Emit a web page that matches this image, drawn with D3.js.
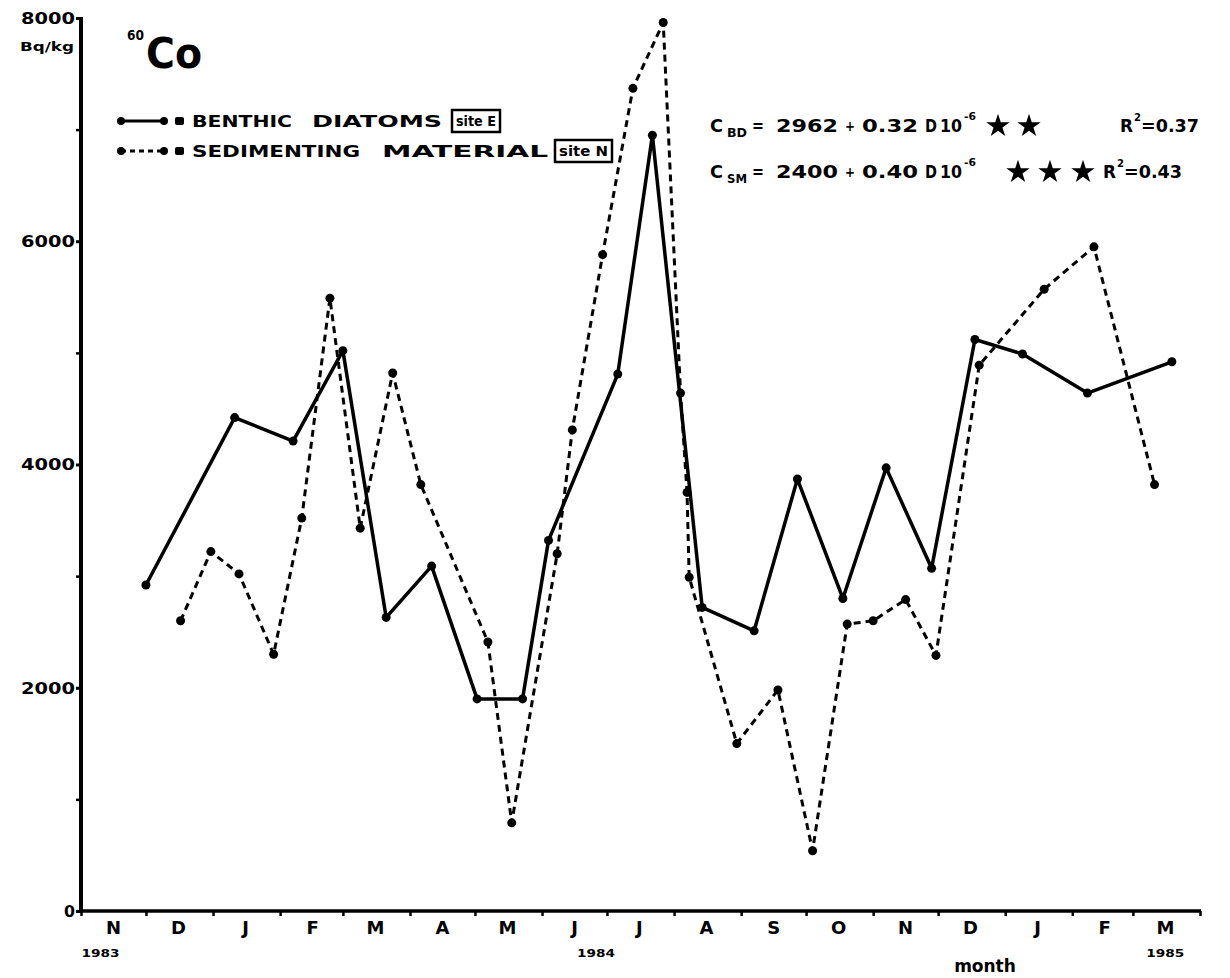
<!DOCTYPE html>
<html>
<head>
<meta charset="utf-8">
<script src="https://cdn.jsdelivr.net/npm/d3@7"></script>
<style>
  body { margin: 0; background: #fff; }
  text { font-family: "DejaVu Sans", sans-serif; font-weight: bold; fill: #000; }
</style>
</head>
<body>
<div id="chart"></div>
<script>
// 60Co in benthic diatoms (site E) and sedimenting material (site N), Nov 1983 - Mar 1985

const diatomDates = ['1983-12-01', '1984-01-11', '1984-02-07', '1984-03-01', '1984-03-21', '1984-04-11',
    '1984-05-02', '1984-05-23', '1984-06-04', '1984-07-06', '1984-07-22', '1984-08-14', '1984-09-07',
    '1984-09-27', '1984-10-18', '1984-11-07', '1984-11-28', '1984-12-18', '1985-01-09', '1985-02-08',
    '1985-03-19'];
const diatomValues = [2920, 4420, 4210, 5020, 2630, 3090, 1900, 1900, 3320, 4810, 6950, 2720, 2510,
    3870, 2800, 3970, 3070, 5120, 4990, 4640, 4920];

const sedimentDates = ['1983-12-17', '1983-12-31', '1984-01-13', '1984-01-29', '1984-02-11', '1984-02-24',
    '1984-03-09', '1984-03-24', '1984-04-06', '1984-05-07', '1984-05-18', '1984-06-08', '1984-06-15',
    '1984-06-29', '1984-07-13', '1984-07-27', '1984-08-04', '1984-08-07', '1984-08-08', '1984-08-30',
    '1984-09-18', '1984-10-04', '1984-10-20', '1984-11-01', '1984-11-16', '1984-11-30', '1984-12-20',
    '1985-01-19', '1985-02-11', '1985-03-11'];
const sedimentValues = [2600, 3220, 3020, 2300, 3520, 5490, 3430, 4820, 3820, 2410, 790, 3200, 4310,
    5880, 7370, 7960, 4640, 3750, 2990, 1500, 1980, 540, 2570, 2600, 2790, 2290, 4890, 5570, 5950, 3820];

const monthLabels = ['N', 'D', 'J', 'F', 'M', 'A', 'M', 'J', 'J', 'A', 'S', 'O', 'N', 'D', 'J', 'F', 'M'];
const yearLabels = [['1983', '1983-11-10'], ['1984', '1984-06-26'], ['1985', '1985-03-16']];
const yTicks = [0, 2000, 4000, 6000, 8000];
const yMinorTicks = [1000, 3000, 5000, 7000];

const width = 1230, height = 978;
const parse = d3.timeParse('%Y-%m-%d');

const svg = d3.select('#chart').append('svg')
    .attr('width', width)
    .attr('height', height);

const x = d3.scaleTime()
    .domain([parse('1983-11-01'), parse('1985-04-01')])
    .range([81, 1200]);
const y = d3.scaleLinear()
    .domain([0, 8000])
    .range([911, 18]);

// axes
const yAxis = svg.append('g')
    .attr('transform', 'translate(81,0)')
    .call(d3.axisLeft(y).tickValues(yTicks).tickFormat(d3.format('d')).tickSize(5).tickPadding(1));
yAxis.select('.domain').attr('stroke-width', 4).attr('d', 'M0,911V17');
yAxis.selectAll('.tick line').attr('stroke-width', 3);
yAxis.selectAll('.tick text')
    .attr('font-family', 'DejaVu Sans')
    .attr('font-weight', 'bold')
    .attr('font-size', 15)
    .attr('textLength', d => d === 0 ? 11 : 54)
    .attr('lengthAdjust', 'spacingAndGlyphs')
    .attr('dy', '0.35em');

svg.append('g')
    .attr('transform', 'translate(81,0)')
    .call(d3.axisLeft(y).tickValues(yMinorTicks).tickSize(5).tickFormat(''))
    .call(g => g.select('.domain').remove())
    .selectAll('line').attr('stroke-width', 2.5);

const xAxis = svg.append('g')
    .attr('transform', 'translate(0,911)')
    .call(d3.axisBottom(x).ticks(d3.timeMonth.every(1)).tickSize(5).tickFormat(''));
xAxis.select('.domain').attr('stroke-width', 3.5).attr('d', 'M79,0H1201');
xAxis.selectAll('.tick line').attr('stroke-width', 2.5);

// month letters in the middle of each month
const months = d3.timeMonth.range(parse('1983-11-01'), parse('1985-04-01'));
svg.append('g').selectAll('text')
    .data(months)
    .join('text')
    .attr('x', d => x(new Date(d.getTime() + 15 * 864e5)))
    .attr('y', 934)
    .attr('text-anchor', 'middle')
    .attr('font-size', 18)
    .text((d, i) => monthLabels[i]);

svg.append('g').selectAll('text')
    .data(yearLabels)
    .join('text')
    .attr('x', d => x(parse(d[1])))
    .attr('y', 957)
    .attr('text-anchor', 'middle')
    .attr('font-size', 11)
    .attr('textLength', 38)
    .attr('lengthAdjust', 'spacingAndGlyphs')
    .text(d => d[0]);

svg.append('text')
    .attr('x', 985).attr('y', 972)
    .attr('text-anchor', 'middle')
    .attr('font-size', 17)
    .text('month');

// units and title
svg.append('text').attr('x', 20).attr('y', 51).attr('font-size', 13)
    .attr('textLength', 54).attr('lengthAdjust', 'spacingAndGlyphs').text('Bq/kg');
svg.append('text').attr('x', 127).attr('y', 40).attr('font-size', 14)
    .attr('textLength', 17).attr('lengthAdjust', 'spacingAndGlyphs').text('60');
svg.append('text').attr('x', 146).attr('y', 68).attr('font-size', 42)
    .attr('textLength', 56).attr('lengthAdjust', 'spacingAndGlyphs').text('Co');

// series
const line = d3.line().x(d => x(d[0])).y(d => y(d[1]));
const diatoms = diatomDates.map((d, i) => [parse(d), diatomValues[i]]);
const sediment = sedimentDates.map((d, i) => [parse(d), sedimentValues[i]]);

svg.append('path')
    .datum(sediment)
    .attr('fill', 'none')
    .attr('stroke', '#000')
    .attr('stroke-width', 3)
    .attr('stroke-dasharray', '7,5')
    .attr('d', line);
svg.append('path')
    .datum(diatoms)
    .attr('fill', 'none')
    .attr('stroke', '#000')
    .attr('stroke-width', 3.5)
    .attr('stroke-linejoin', 'round')
    .attr('d', line);

svg.append('g').selectAll('circle')
    .data(diatoms.concat(sediment))
    .join('circle')
    .attr('cx', d => x(d[0]))
    .attr('cy', d => y(d[1]))
    .attr('r', 4.5);

// legend
function word(xp, yp, s, size, len) {
    const t = svg.append('text').attr('x', xp).attr('y', yp).attr('font-size', size).text(s);
    if (len) t.attr('textLength', len).attr('lengthAdjust', 'spacingAndGlyphs');
    return t;
}
function legendRow(yp, dash, words, boxX, boxW, boxText) {
    svg.append('line').attr('x1', 121).attr('x2', 164).attr('y1', yp).attr('y2', yp)
        .attr('stroke', '#000').attr('stroke-width', 3).attr('stroke-dasharray', dash);
    svg.append('circle').attr('cx', 121).attr('cy', yp).attr('r', 4);
    svg.append('circle').attr('cx', 164).attr('cy', yp).attr('r', 4);
    svg.append('rect').attr('x', 175).attr('y', yp - 4).attr('width', 9).attr('height', 8).attr('rx', 2);
    words.forEach(w => word(w[0], yp + 6, w[1], 16, w[2]));
    svg.append('rect').attr('x', boxX).attr('y', yp - 11).attr('width', boxW).attr('height', 22)
        .attr('fill', 'none').attr('stroke', '#000').attr('stroke-width', 2.5);
    word(boxX + 4, yp + 5, boxText, 14, boxW - 8);
}
legendRow(121, null, [[192, 'BENTHIC', 100], [312, 'DIATOMS', 130]], 452, 48, 'site E');
legendRow(151, '5,4', [[192, 'SEDIMENTING', 168], [382, 'MATERIAL', 166]], 555, 57, 'site N');

// regression equations
const star = d3.symbol(d3.symbolStar, 170);
function equation(yp, sub, a, b, stars, rX, r2) {
    word(710, yp, 'C', 18, 13);
    word(727, yp + 5, sub, 12, 20);
    word(752, yp, '=', 18, 12);
    word(776, yp, a, 18, 62);
    word(845, yp - 1, '+', 14, 10);
    word(862, yp, b, 18, 56);
    word(925, yp, 'D', 18, 12);
    word(940, yp, '10', 18, 22);
    word(964, yp - 12, '-6', 10, 12);
    stars.forEach(sx => svg.append('path').attr('d', star)
        .attr('transform', `translate(${sx},${yp - 6})`));
    word(rX, yp, 'R', 18, 13);
    word(rX + 14, yp - 11, '2', 10, 7);
    word(rX + 21, yp, '=' + r2, 18, 58);
}
equation(132, 'BD', '2962', '0.32', [998, 1029], 1120, '0.37');
equation(178, 'SM', '2400', '0.40', [1018, 1050, 1083], 1103, '0.43');
</script>
</body>
</html>
